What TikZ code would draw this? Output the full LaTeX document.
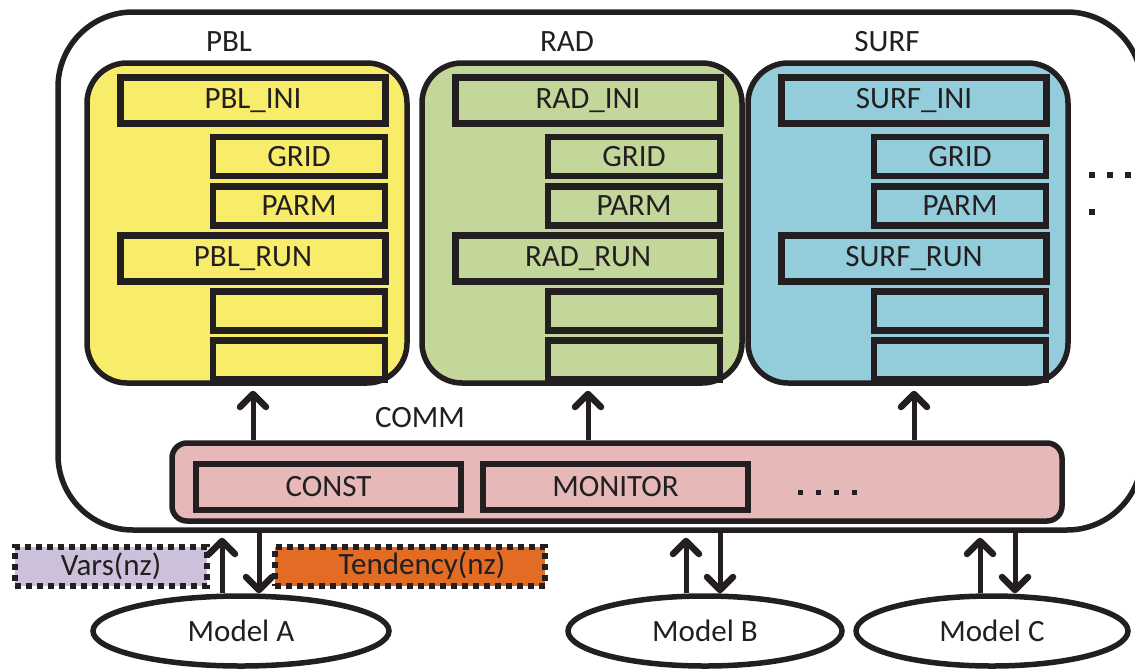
\documentclass[tikz,border=0pt]{standalone}
\usepackage{fontspec}
\setmainfont{Carlito}
\usepackage{tikz}
\usetikzlibrary{arrows.meta}
\usetikzlibrary{positioning,calc,shapes.geometric}
\definecolor{ink}{HTML}{231F20}
\definecolor{pblyel}{HTML}{F8EC6B}
\definecolor{radgrn}{HTML}{C4D79B}
\definecolor{surfblu}{HTML}{93CDDC}
\definecolor{commpnk}{HTML}{E6B8B7}
\definecolor{varslav}{HTML}{CCC0DA}
\definecolor{tendorg}{HTML}{E36C25}
\tikzset{
    module/.style={
        draw=ink,
        line width=5.5pt,
        rounded corners=40pt,
        minimum width=320pt,
        minimum height=320pt,
        inner sep=0pt
    },
    longbar/.style={
        draw=ink,
        line width=6.5pt,
        minimum width=265pt,
        minimum height=46pt,
        inner sep=0pt
    },
    shortbar/.style={
        draw=ink,
        line width=6.5pt,
        minimum width=172pt,
        minimum height=39pt,
        inner sep=0pt
    },
    model/.style={
        draw=ink,
        ellipse,
        line width=5.5pt,
        minimum height=70pt,
        inner sep=0pt
    },
    dotbox/.style={
        draw=ink,
        line width=6pt,
        dash pattern=on 6pt off 5pt,
        minimum height=39pt,
        inner sep=0pt
    },
    arr/.style={
        draw=ink,
        line width=5pt,
        -{Straight Barb[length=13pt, width=26pt, line width=6.5pt 0, line cap=round, line join=round]}
    }
}

\begin{document}
\begin{tikzpicture}[x=1pt, y=-1pt, font=\fontsize{31}{37}\selectfont, text=ink]
  \useasboundingbox (0,0) rectangle (1135,670);

  % Outer frame
  \node[draw=ink, line width=5.5pt, rounded corners=75pt, minimum width=1084pt,
        minimum height=518pt, inner sep=0pt] (frame) at (600,271) {};

  % PBL module
  \begin{scope}
    \node (pbllab) at (229,42) {PBL};
    \node[module, fill=pblyel] (pbl) at (247,223) {};
    \node[longbar] (pbl1) at (253,100.5) {PBL\_INI};
    \node[shortbar] (pbl2) at (299,156.5) {GRID};
    \node[shortbar] (pbl3) at (299,206) {PARM};
    \node[longbar] (pbl4) at (253,258.5) {PBL\_RUN};
    \node[shortbar] (pbl5) at (299,311) {};
    \node[shortbar] (pbl6) at (299,360) {};
  \end{scope}

  % RAD module
  \begin{scope}[shift={(335,0)}]
    \node (radlab) at (232,42) {RAD};
    \node[module, fill=radgrn] (rad) at (247,223) {};
    \node[longbar] (rad1) at (253,100.5) {RAD\_INI};
    \node[shortbar] (rad2) at (299,156.5) {GRID};
    \node[shortbar] (rad3) at (299,206) {PARM};
    \node[longbar] (rad4) at (253,258.5) {RAD\_RUN};
    \node[shortbar] (rad5) at (299,311) {};
    \node[shortbar] (rad6) at (299,360) {};
  \end{scope}

  % SURF module
  \begin{scope}[shift={(661,0)}]
    \node (surflab) at (226,42) {SURF};
    \node[module, fill=surfblu] (surf) at (247,223) {};
    \node[longbar] (surf1) at (253,100.5) {SURF\_INI};
    \node[shortbar] (surf2) at (299,156.5) {GRID};
    \node[shortbar] (surf3) at (299,206) {PARM};
    \node[longbar] (surf4) at (253,258.5) {SURF\_RUN};
    \node[shortbar] (surf5) at (299,311) {};
    \node[shortbar] (surf6) at (299,360) {};
  \end{scope}

  % more modules
  \foreach \x in {1092,1110,1128} \fill[ink] (\x-3,172) rectangle ++(6,6);
  \fill[ink] (1089,209) rectangle ++(6,6);

  % COMM layer
  \node (commlab) at (420,418) {COMM};
  \node[draw=ink, fill=commpnk, line width=5.5pt, rounded corners=15pt, minimum width=890pt,
        minimum height=78pt, inner sep=0pt] (comm) at (617,482) {};
  \node[longbar] (const) at (328.5,487) {CONST};
  \node[longbar] (monitor) at (615.5,487) {MONITOR};
  \foreach \x in {800,818,836,854} \fill[ink] (\x-2.5,489.5) rectangle ++(5,5);

  \draw[arr, shorten >=5pt] (comm.north -| pbl1) -- (pbl1 |- pbl.south);
  \draw[arr, shorten >=5pt] (comm.north -| rad1) -- (rad1 |- rad.south);
  \draw[arr, shorten >=5pt] (comm.north -| surf1) -- (surf1 |- surf.south);

  % Exchanged fields
  \node[dotbox, fill=varslav, minimum width=192pt] (vars) at (111,566) {Vars(nz)};
  \node[dotbox, fill=tendorg, minimum width=270pt] (tend) at (410,566) {\hspace*{24pt}Tendency(nz)};

  % Host models
  \node[model, minimum width=296pt] (ma) at (241,631) {Model A};
  \node[model, minimum width=274pt] (mb) at (705,631) {Model B};
  \node[model, minimum width=272pt] (mc) at (992,631) {Model C};

  \coordinate (aup) at ($(ma.north)+(-19,0)$);
  \coordinate (adn) at ($(ma.north)+(18,0)$);
  \coordinate (bup) at ($(mb.north)+(-19,0)$);
  \coordinate (bdn) at ($(mb.north)+(15,0)$);
  \coordinate (cup) at ($(mc.north)+(-12,0)$);
  \coordinate (cdn) at ($(mc.north)+(23,0)$);

  \draw[arr, shorten >=5pt] (aup) -- (aup |- frame.south);
  \draw[arr] (adn |- frame.south) -- (adn);
  \draw[arr, shorten >=5pt] (bup) -- (bup |- frame.south);
  \draw[arr] (bdn |- frame.south) -- (bdn);
  \draw[arr, shorten >=5pt] (cup) -- (cup |- frame.south);
  \draw[arr] (cdn |- frame.south) -- (cdn);
\end{tikzpicture}
\end{document}
